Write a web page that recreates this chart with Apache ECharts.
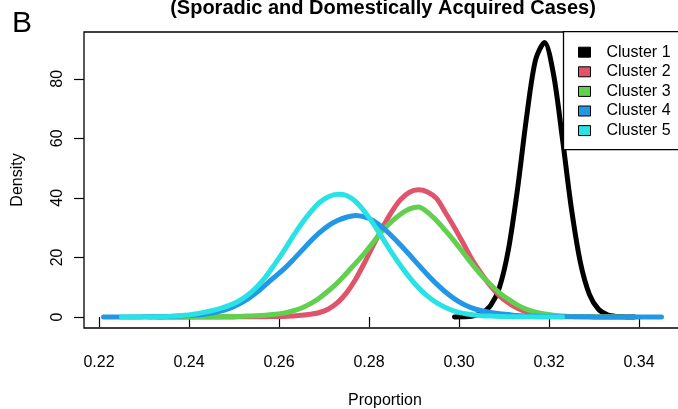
<!DOCTYPE html>
<html><head><meta charset="utf-8">
<script src="https://cdn.jsdelivr.net/npm/echarts@6/dist/echarts.min.js"></script>
<style>html,body{margin:0;padding:0;background:#fff}#c{width:678px;height:409px}</style>
</head><body><div id="c"></div>
<script>
// ---- data ----
const proportion = [
  0.221,0.223,0.225,0.227,0.229,0.231,0.233,0.235,0.237,0.239,
  0.241,0.243,0.245,0.247,0.249,0.251,0.253,0.255,0.257,0.259,
  0.261,0.263,0.265,0.267,0.269,0.271,0.273,0.275,0.277,0.279,
  0.281,0.283,0.285,0.287,0.289,0.291,0.293,0.295,0.297,0.299,
  0.301,0.303,0.305,0.307,0.309,0.311,0.313,0.315,0.317,0.319,
  0.321,0.323,0.325,0.327,0.329,0.331,0.333,0.335,0.337,0.339,
  0.341,0.343,0.345
];
const cluster1 = [
  null,null,null,null,null,null,null,null,null,null,
  null,null,null,null,null,null,null,null,null,null,
  null,null,null,null,null,null,null,null,null,null,
  null,null,null,null,null,null,null,null,null,0,
  0.05,0.3,1.3,3.8,10.0,22.8,42.9,66.9,86.3,92.2,
  81.5,59.7,36.2,18.1,7.5,2.6,0.74,0.17,0.03,0,
  null,null,null
];
const cluster2 = [
  null,null,null,null,null,null,0,0,0,0,
  0.01,0.01,0.02,0.02,0.03,0.04,0.05,0.07,0.1,0.15,
  0.2,0.35,0.55,0.9,1.5,2.7,4.8,8.1,12.6,18.2,
  24.2,30.0,35.2,39.4,41.9,42.7,42.0,39.8,35.0,30.0,
  24.6,19.0,14.5,10.4,7.1,4.7,2.9,1.7,1.0,0.6,
  0.35,0.2,0.12,0.07,0.04,0.02,0.01,0,null,null,
  null,null,null
];
const cluster3 = [
  null,null,null,null,null,0,0,0.01,0.01,0.02,
  0.03,0.05,0.07,0.1,0.15,0.2,0.3,0.4,0.6,0.9,
  1.3,2.0,3.0,4.5,6.4,8.8,11.5,14.7,18.0,21.4,
  25.2,29.0,32.0,34.5,36.3,36.9,35.2,32.4,29.0,25.4,
  21.5,17.6,14.0,10.9,8.1,5.9,4.0,2.6,1.6,1.0,
  0.6,0.35,0.2,0.12,0.07,0.04,0.02,0.01,0,null,
  null,null,null
];
const cluster4 = [
  0,0,0.01,0.02,0.03,0.05,0.08,0.15,0.25,0.4,
  0.6,0.85,1.3,2.0,2.9,4.3,6.0,8.2,10.8,13.4,
  16.0,19.0,22.2,25.4,28.3,30.7,32.4,33.5,34.1,33.6,
  32.3,30.1,27.3,24.2,20.9,17.5,14.2,11.1,8.4,6.1,
  4.3,3.0,2.1,1.5,1.1,0.8,0.5,0.35,0.25,0.2,
  0.15,0.1,0.08,0.05,0.04,0.03,0.02,0.01,0.01,0,
  0,0,0
];
const cluster5 = [
  null,null,0,0,0.01,0.02,0.05,0.12,0.3,0.55,
  0.95,1.45,2.1,2.9,3.9,5.3,7.3,10.0,13.4,17.6,
  22.0,26.8,31.3,35.2,38.5,40.4,41.2,40.8,38.8,35.4,
  31.2,26.5,21.7,17.3,13.3,9.8,7.0,4.8,3.2,2.0,
  1.2,0.75,0.45,0.3,0.2,0.12,0.08,0.05,0.03,0.02,
  0.01,0,null,null,null,null,null,null,null,null,
  null,null,null
];
const seriesNames = ['Cluster 1','Cluster 2','Cluster 3','Cluster 4','Cluster 5'];
const seriesColors = ['#000000','#DF536B','#61D04F','#2297E6','#28E2E5'];
const xTicks = [0.22,0.24,0.26,0.28,0.30,0.32,0.34];
const yTicks = [0,20,40,60,80];
const titleText = '(Sporadic and Domestically Acquired Cases)';
const panelLabel = 'B';
const xLabel = 'Proportion';
const yLabel = 'Density';

// ---- chart ----
const FONT = '"Liberation Sans", Arial, Helvetica, sans-serif';
const clusters = [cluster1, cluster2, cluster3, cluster4, cluster5];
function toPairs(vals) {
  const out = [];
  vals.forEach((v, i) => { if (v !== null) out.push([proportion[i], v]); });
  return out;
}
const chart = echarts.init(document.getElementById('c'), null, {renderer: 'canvas'});
const option = {
  animation: false,
  backgroundColor: '#ffffff',
  textStyle: {fontFamily: FONT},
  grid: {
    left: 84, top: 32, width: 602, height: 296,
    show: true, borderColor: '#000', borderWidth: 1.3, backgroundColor: 'transparent',
    containLabel: false, outerBoundsMode: 'none'
  },
  xAxis: {
    type: 'value', min: 0.216667, max: 0.350444,
    axisLine: {show: false}, splitLine: {show: false},
    axisTick: {show: true, customValues: xTicks, length: 10, lineStyle: {color: '#000', width: 1.2}},
    axisLabel: {customValues: xTicks, margin: 27, formatter: v => v.toFixed(2),
      fontSize: 16, color: '#000', fontFamily: FONT},
    name: xLabel, nameLocation: 'middle', nameGap: 65,
    nameTextStyle: {fontSize: 16, color: '#000', fontFamily: FONT}
  },
  yAxis: {
    type: 'value', min: -3.7, max: 95.7,
    axisLine: {show: false}, splitLine: {show: false},
    axisTick: {show: true, customValues: yTicks, length: 10, lineStyle: {color: '#000', width: 1.2}},
    axisLabel: {customValues: yTicks, rotate: 90, margin: 18, formatter: v => String(v),
      fontSize: 16, color: '#000', fontFamily: FONT},
    name: yLabel, nameLocation: 'middle', nameGap: 58,
    nameTextStyle: {fontSize: 16, color: '#000', fontFamily: FONT}
  },
  legend: {
    orient: 'vertical', left: 563.5, top: 31.7,
    data: seriesNames, icon: 'rect', itemWidth: 12, itemHeight: 10, itemGap: 3.6,
    itemStyle: {borderColor: '#000', borderWidth: 1},
    textStyle: {fontSize: 16, color: '#000', fontFamily: FONT, lineHeight: 16, padding: [0, 0, 0, 11]},
    padding: [12.5, 16, 11, 14.5],
    borderColor: '#000', borderWidth: 1.3, borderRadius: 0, backgroundColor: '#fff',
    selectedMode: false
  },
  graphic: [
    {type: 'text', x: 12, y: 24, silent: true,
      style: {text: panelLabel, font: '30px ' + FONT, fill: '#000', align: 'left', verticalAlign: 'middle'}},
    {type: 'text', x: 383, y: 8, silent: true,
      style: {text: titleText, font: 'bold 20px ' + FONT, fill: '#000', align: 'center', verticalAlign: 'middle'}}
  ],
  series: clusters.map((vals, i) => ({
    name: seriesNames[i], type: 'line', data: toPairs(vals),
    showSymbol: false, symbol: 'none', smooth: 0.3, silent: true,
    color: seriesColors[i], itemStyle: {color: seriesColors[i]},
    lineStyle: {color: seriesColors[i], width: 5, cap: 'round', join: 'round'},
    emphasis: {disabled: true}
  }))
};
chart.setOption(option);
</script>
</body></html>
